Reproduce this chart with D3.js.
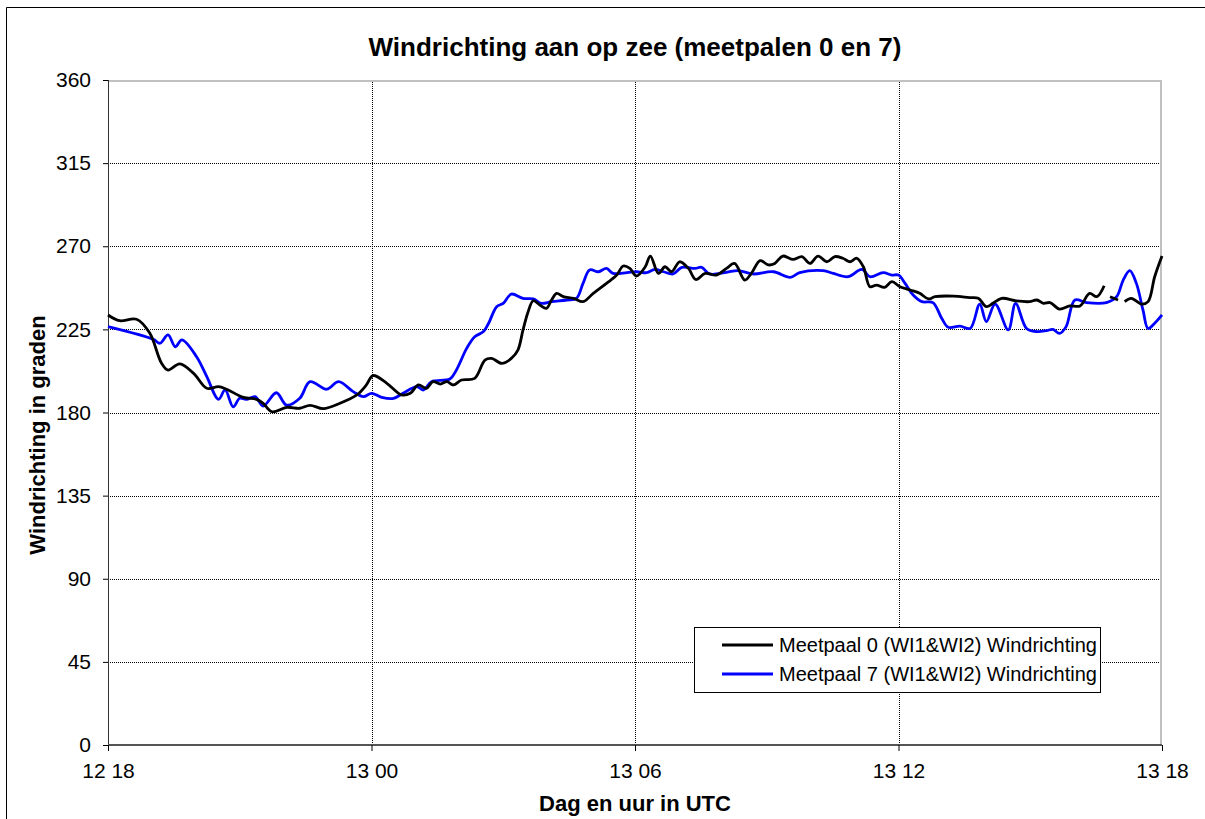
<!DOCTYPE html>
<html>
<head>
<meta charset="utf-8">
<script src="https://cdn.jsdelivr.net/npm/d3@7"></script>
<style>
  body { margin: 0; background: #fff; }
  svg { font-family: "Liberation Sans", Arial, sans-serif; }
</style>
</head>
<body>
<svg id="chart" width="1205" height="819"></svg>
<script>
// minutes after 12 18 UTC, wind direction in degrees (null = gap)
const minutes0 = [0, 16, 39, 57, 73, 82, 98, 117, 135, 151, 162, 185, 203, 212, 224, 244, 262, 276, 294, 317,
  340, 353, 362, 381, 401, 413, 424, 435, 444, 454, 463, 472, 483, 501, 515, 524, 538, 551, 560, 567,
  574, 581, 590, 599, 606, 613, 622, 636, 649, 663, 681, 695, 704, 713, 722, 734, 741, 752, 761, 770,
  781, 793, 803, 816, 831, 845, 856, 870, 879, 891, 902, 911, 922, 936, 948, 959, 970, 982, 993, 1004,
  1014, 1023, 1032, 1041, 1050, 1061, 1071, 1082, 1096, 1109, 1121, 1130, 1155, 1177, 1189, 1200, 1209, 1221, 1241, 1259,
  1269, 1278, 1287, 1300, 1314, 1328, 1341, 1351, 1361, 1364, 1369, 1380, 1384, 1389, 1398, 1412, 1421, 1430, 1440];
const dir0 = [232.8, 229.7, 230.5, 223, 206.8, 203, 206.3, 201.2, 193.1, 194, 192.6, 188.2, 187.1, 185, 180.4, 182.8, 182.3, 183.9, 182.1, 185,
  189.5, 194.9, 200, 195.8, 189.5, 190.4, 194.9, 193.1, 196.7, 195.4, 196.7, 194.9, 197.6, 198.5, 208.4, 209.3, 206.6, 209.3, 213.8, 224.7,
  234.6, 240.5, 238.2, 236.4, 240.9, 244.5, 242.7, 241.8, 240, 244.5, 249.9, 254.4, 259.3, 258, 253.9, 258.9, 264.7, 255.3, 258.9, 256.2,
  261.6, 258, 252, 255.3, 254.4, 258, 260.7, 251.7, 255.3, 262.2, 259.9, 260.7, 264.7, 262.9, 264.4, 260.7, 264.7, 261.6, 264.4, 263.5,
  261.6, 263.5, 258.9, 248.1, 249, 247.8, 250.8, 248.1, 246.3, 244.5, 241.5, 242.7, 243, 242.2, 241.8, 237.3, 239.1, 241.8, 240.4, 240,
  240.9, 239.1, 239.5, 236, 237.7, 237.7, 244.5, 242.7, 248.6, null, 242.7, 240.9, null, 240, 241.8, 238.7, 240, 253.5, 264.7];

const minutes7 = [0, 62, 71, 82, 92, 101, 121, 135, 151, 160, 171, 180, 189, 201, 212, 230, 244, 262, 276, 299,
  315, 335, 349, 360, 374, 390, 403, 422, 431, 442, 467, 476, 490, 501, 513, 520, 531, 540, 551, 567,
  581, 592, 606, 627, 640, 649, 658, 670, 681, 690, 709, 722, 736, 747, 759, 772, 784, 802, 811, 822,
  845, 861, 881, 909, 932, 945, 977, 991, 1011, 1030, 1041, 1059, 1071, 1080, 1089, 1100, 1112, 1127, 1139, 1148,
  1164, 1178, 1191, 1200, 1212, 1230, 1240, 1255, 1269, 1282, 1291, 1300, 1309, 1321, 1337, 1364, 1378, 1387, 1396, 1405,
  1414, 1421, 1430, 1440];
const dir7 = [226.5, 219.6, 217.5, 222, 215.6, 219.3, 210.2, 199.4, 187.1, 192.2, 183.1, 187.7, 187.1, 188.6, 183.5, 190.7, 184, 187.7, 196.7, 192.6,
  196.7, 191.3, 188.6, 190.4, 188.2, 187.6, 190.4, 194, 192.2, 196.7, 198.1, 203, 214.7, 221, 223.8, 228.3, 237.3, 239.1, 244.1, 241.8,
  241.5, 239.1, 240, 240.9, 241.8, 249.9, 257.2, 256.2, 258, 255.3, 255.7, 256.2, 255.7, 257.5, 256.2, 255, 258.6, 258, 258.6, 255,
  255.9, 256.8, 255, 256.2, 253.2, 255.7, 256.8, 255.3, 253.5, 257.5, 253.5, 255.7, 254.4, 254.4, 249.9, 243.6, 240, 239.5, 231, 226.1,
  226.8, 225.5, 238.7, 229.2, 238.7, 224.7, 239.1, 225.5, 223.8, 224.3, 225, 222.8, 226.5, 240.9, 239.5, 239.5, 242.7, 251.7, 256.8, 249.9,
  235.5, 225.5, 228.3, 232.8];

const yTicks = [0, 45, 90, 135, 180, 225, 270, 315, 360];
const xTickLabels = ["12 18", "13 00", "13 06", "13 12", "13 18"];
const seriesNames = ["Meetpaal 0 (WI1&WI2) Windrichting", "Meetpaal 7 (WI1&WI2) Windrichting"];
const seriesColors = ["#000000", "#0000ff"];

const svg = d3.select("#chart");
const width = 1205, height = 819;
const margin = { top: 80, right: 43, bottom: 74, left: 108 };
const plotW = width - margin.left - margin.right;
const plotH = height - margin.top - margin.bottom;

const t0 = new Date(2000, 0, 12, 18, 0);
const toDate = m => new Date(t0.getTime() + m * 60000);
const xTickDates = xTickLabels.map((d, i) => toDate(i * 360));

const x = d3.scaleTime().domain([t0, toDate(1440)]).range([0, plotW]);
const y = d3.scaleLinear().domain([0, 360]).range([plotH, 0]);

// outer frame
svg.append("path")
  .attr("d", `M6.5,${height} V7.5 H${width}`)
  .attr("fill", "none").attr("stroke", "#000").attr("stroke-width", 1);

svg.append("text")
  .attr("x", 635).attr("y", 56)
  .attr("text-anchor", "middle")
  .style("font-size", "26px").style("font-weight", "bold")
  .text("Windrichting aan op zee (meetpalen 0 en 7)");

const g = svg.append("g").attr("transform", `translate(${margin.left},${margin.top})`);

// grid
g.append("g").selectAll("line").data(yTicks.slice(1, -1)).join("line")
  .attr("x1", 0).attr("x2", plotW)
  .attr("y1", d => Math.round(y(d)) + 0.5).attr("y2", d => Math.round(y(d)) + 0.5)
  .attr("stroke", "#000").attr("stroke-dasharray", "1,1");
g.append("g").selectAll("line").data(xTickDates.slice(1, -1)).join("line")
  .attr("y1", 0).attr("y2", plotH)
  .attr("x1", d => Math.round(x(d)) + 0.5).attr("x2", d => Math.round(x(d)) + 0.5)
  .attr("stroke", "#000").attr("stroke-dasharray", "1,1");

// plot border top/right
g.append("path")
  .attr("d", `M0,1 H${plotW - 1} V${plotH}`)
  .attr("fill", "none").attr("stroke", "#c0c0c0").attr("stroke-width", 2);

// axes
const yAxis = d3.axisLeft(y).tickValues(yTicks).tickSize(5).tickPadding(12);
g.append("g").call(yAxis)
  .call(a => a.select(".domain").attr("stroke", "#333").attr("d", `M0.5,0V${plotH}`))
  .call(a => a.selectAll("text").style("font-size", "21px").attr("fill", "#000"));

const xAxis = d3.axisBottom(x).tickValues(xTickDates)
  .tickFormat((d, i) => xTickLabels[i]).tickSize(6).tickPadding(12);
g.append("g").attr("transform", `translate(0,${plotH})`).call(xAxis)
  .call(a => a.select(".domain").attr("stroke", "#555").attr("stroke-width", 2).attr("d", `M0,0H${plotW}`))
  .call(a => a.selectAll("text").style("font-size", "21px").attr("fill", "#000"));

// axis titles
svg.append("text")
  .attr("x", 635).attr("y", 811)
  .attr("text-anchor", "middle")
  .style("font-size", "22px").style("font-weight", "bold")
  .text("Dag en uur in UTC");
svg.append("text")
  .attr("transform", "translate(45,435) rotate(-90)")
  .attr("text-anchor", "middle")
  .style("font-size", "22px").style("font-weight", "bold")
  .text("Windrichting in graden");

// series
const line = d3.line()
  .defined(d => d[1] != null)
  .x(d => x(toDate(d[0])))
  .y(d => y(d[1]))
  .curve(d3.curveCatmullRom.alpha(0.5));

const series = [
  d3.zip(minutes0, dir0),
  d3.zip(minutes7, dir7)
];
// draw blue first, black on top where they overlap
g.append("path").datum(series[1])
  .attr("d", line).attr("fill", "none")
  .attr("stroke", seriesColors[1]).attr("stroke-width", 2.8);
g.append("path").datum(series[0])
  .attr("d", line).attr("fill", "none")
  .attr("stroke", seriesColors[0]).attr("stroke-width", 2.8);

// legend
const leg = svg.append("g").attr("transform", "translate(694,627)");
leg.append("rect")
  .attr("x", 0.5).attr("y", 0.5).attr("width", 406).attr("height", 65)
  .attr("fill", "#fff").attr("stroke", "#000");
const items = leg.selectAll("g.item").data(seriesNames).join("g")
  .attr("class", "item")
  .attr("transform", (d, i) => `translate(0,${18 + i * 29})`);
items.append("line")
  .attr("x1", 28).attr("x2", 79)
  .attr("stroke", (d, i) => seriesColors[i]).attr("stroke-width", 2.8);
items.append("text")
  .attr("x", 85).attr("dy", "0.35em")
  .style("font-size", "20px")
  .text(d => d);
</script>
</body>
</html>
